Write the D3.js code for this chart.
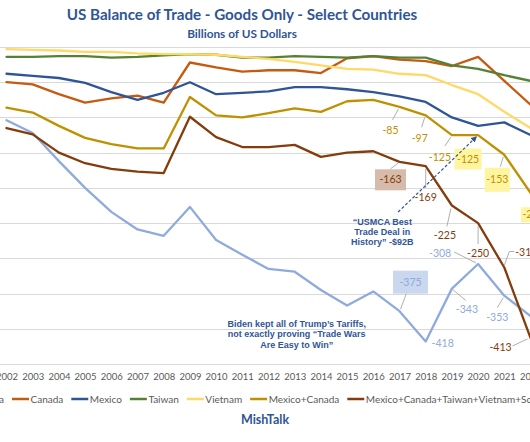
<!DOCTYPE html>
<html><head><meta charset="utf-8">
<script src="https://cdn.jsdelivr.net/npm/d3@7/dist/d3.min.js"></script>
<style>body{margin:0;background:#fff;}svg{display:block;}</style>
</head><body>
<svg id="chart" width="530" height="442"></svg>
<script>
// ---------------- data ----------------
const years = [2002,2003,2004,2005,2006,2007,2008,2009,2010,2011,2012,2013,2014,2015,2016,2017,2018,2019,2020,2021,2022];
const yTicks = [0,-50,-100,-150,-200,-250,-300,-350,-400,-450];
const seriesNames = ["China","Canada","Mexico","Taiwan","Vietnam","Mexico+Canada","Mexico+Canada+Taiwan+Vietnam+South Korea"];
const china   = [-104,-122,-162,-200,-234,-259,-268,-227,-274,-295,-315,-319,-345,-367,-347,-375,-418,-343,-308,-353,-382];
const canada  = [-50,-53,-67,-79,-73,-69,-79,-22,-29,-35,-33,-33,-37,-16,-13,-18,-20,-27,-14,-48,-82];
const mexico  = [-38,-41,-44,-51,-64,-75,-65,-50,-67,-65,-63,-57,-57,-60,-64,-70,-78,-100,-112,-107,-125];
const taiwan  = [-14,-14,-13,-13,-15,-14,-12,-10,-11,-15,-15,-13,-14,-15,-13,-15,-15,-26,-31,-40,-48];
const vietnam = [-3,-4,-5,-7,-7,-9,-10,-10,-11,-14,-17,-21,-26,-31,-32,-38,-40,-54,-67,-92,-115];
const mexCan  = [-86,-93,-112,-129,-138,-144,-144,-71,-97,-100,-94,-87,-92,-77,-75,-85,-97,-125,-125,-153,-207];
const group   = [-115,-124,-150,-165,-173,-177,-179,-99,-128,-142,-142,-139,-156,-150,-148,-163,-169,-225,-250,-313,-413];
const allSeries = [china, canada, mexico, taiwan, vietnam, mexCan, group];

// ---------------- style ----------------
const colors = ["#8FAADC","#C55A11","#2F5597","#548235","#FFD966","#BF9000","#843C0C"];
const blue = "#2F5597";

const svg = d3.select("#chart");
const W = 530;
const x = d3.scaleLinear().domain([2002, 2022]).range([6.5, 530.5]);
const y = d3.scaleLinear().domain([0, -450]).range([47, 364]);

// titles
svg.append("text").attr("x", 242).attr("y", 15).attr("dy", "0.35em")
  .attr("text-anchor", "middle").attr("font-family", "Lato").attr("font-weight", "bold")
  .attr("font-size", 15.2).attr("fill", blue).text("US Balance of Trade - Goods Only - Select Countries");
svg.append("text").attr("x", 242).attr("y", 34).attr("dy", "0.35em")
  .attr("text-anchor", "middle").attr("font-family", "Lato").attr("font-weight", "bold")
  .attr("font-size", 11.8).attr("fill", blue).text("Billions of US Dollars");

// gridlines
svg.append("g").selectAll("line").data(yTicks).join("line")
  .attr("x1", 0).attr("x2", W).attr("y1", d => Math.round(y(d)) + 0.5).attr("y2", d => Math.round(y(d)) + 0.5)
  .attr("stroke", "#D9D9D9").attr("stroke-width", 1);

// x axis labels
const xAxis = d3.axisBottom(x).tickValues(years).tickFormat(d3.format("d")).tickSize(0).tickPadding(9);
const gx = svg.append("g").attr("transform", `translate(0,${y(-450)})`).call(xAxis);
gx.select(".domain").remove();
gx.selectAll("text").attr("font-family", "Lato").attr("font-size", 9.5).attr("fill", "#595959");

// lines
const line = d3.line().x((d, i) => x(years[i])).y(d => y(d));
svg.append("g").selectAll("path").data(allSeries).join("path")
  .attr("d", d => line(d)).attr("fill", "none")
  .attr("stroke", (d, i) => colors[i]).attr("stroke-width", 2.3)
  .attr("stroke-linejoin", "round").attr("stroke-linecap", "round");

// annotations: series index, year, text offset, optional box, leader points (relative to the data point)
const annotations = [
  {s:0, yr:2017, dx:11, dy:-29, box:[35,23,"#C9D7EF"], lead:[[7,-18],[1,-2]]},
  {s:0, yr:2018, dx:17, dy:2, box:null, lead:null},
  {s:0, yr:2019, dx:15, dy:21, box:null, lead:[[14,12],[1,1]]},
  {s:0, yr:2020, dx:-38, dy:-11, box:null, lead:[[-24,-12],[-2,-1]]},
  {s:0, yr:2021, dx:-7, dy:22, box:null, lead:[[-7,12],[-1,2]]},
  {s:6, yr:2017, dx:-9, dy:18, box:[31,21,"#D7BBAA"], lead:[[-9,7],[-1,1]]},
  {s:6, yr:2018, dx:0, dy:31, box:null, lead:[[0,22],[0,3]]},
  {s:6, yr:2019, dx:-7, dy:30, box:null, lead:[[-5,21],[-1,3]]},
  {s:6, yr:2020, dx:0, dy:30, box:null, lead:[[0,21],[0,3]]},
  {s:6, yr:2021, dx:22, dy:-15, box:null, lead:[[10,-16],[5,-16],[0,-2]]},
  {s:6, yr:2022, dx:-30, dy:9, box:null, lead:[[-18,8],[-3,1]]},
  {s:5, yr:2017, dx:-9, dy:23, box:null, lead:[[-7,13],[-1,2]]},
  {s:5, yr:2018, dx:-6, dy:23, box:null, lead:[[-4,12],[-1,2]]},
  {s:5, yr:2019, dx:-12, dy:22, box:null, lead:[[-7,11],[-1,2]]},
  {s:5, yr:2020, dx:-10, dy:24, box:[27,21,"#FFF5A0"], lead:null},
  {s:5, yr:2021, dx:-7, dy:25, box:[25,24,"#FFF5A0"], lead:[[-4,12],[-1,2]]},
  {s:5, yr:2022, dx:3, dy:22, box:[25,15,"#FFF5A0"], lead:null}
];
const ag = svg.append("g");
annotations.forEach(a => {
  const i = years.indexOf(a.yr);
  const v = allSeries[a.s][i];
  const px = x(a.yr), py = y(v);
  if (a.lead) {
    ag.append("path").attr("d", d3.line()(a.lead.map(p => [px + p[0], py + p[1]])))
      .attr("fill", "none").attr("stroke", "#A6A6A6").attr("stroke-width", 0.9);
  }
  if (a.box) {
    ag.append("rect").attr("x", px + a.dx - a.box[0] / 2).attr("y", py + a.dy - a.box[1] / 2)
      .attr("width", a.box[0]).attr("height", a.box[1]).attr("fill", a.box[2]);
  }
  ag.append("text").attr("x", px + a.dx).attr("y", py + a.dy).attr("dy", "0.35em")
    .attr("text-anchor", "middle").attr("font-family", "Lato").attr("font-size", 10.5)
    .attr("fill", colors[a.s]).text(String(v));
});

// dashed arrow to Mexico+Canada 2020
const defs = svg.append("defs");
defs.append("marker").attr("id", "arr").attr("viewBox", "0 0 10 10").attr("refX", 8).attr("refY", 5)
  .attr("markerWidth", 5).attr("markerHeight", 5).attr("orient", "auto")
  .append("path").attr("d", "M0,0L10,5L0,10z").attr("fill", blue);
const ax = x(2020), ay = y(mexCan[years.indexOf(2020)]);
svg.append("line").attr("x1", ax - 80).attr("y1", ay + 77).attr("x2", ax - 2).attr("y2", ay + 2)
  .attr("stroke", blue).attr("stroke-width", 1.2).attr("stroke-dasharray", "3,2")
  .attr("marker-end", "url(#arr)");

// text notes
const noteFont = "'Liberation Sans', Arial, sans-serif";
const usmca = ["\u201CUSMCA Best", "Trade Deal in", "History\u201D -$92B"];
svg.append("text").attr("font-family", noteFont).attr("font-weight", "bold").attr("font-size", 9)
  .attr("fill", blue).attr("text-anchor", "middle")
  .selectAll("tspan").data(usmca).join("tspan")
  .attr("x", x(2016) + 9).attr("y", (d, i) => y(-250) + 2 + i * 10).text(d => d);
const biden = ["Biden kept all of Trump\u2019s Tariffs,", "not exactly proving \u201CTrade Wars", "Are Easy to Win\u201D"];
svg.append("text").attr("font-family", noteFont).attr("font-weight", "bold").attr("font-size", 9)
  .attr("fill", blue).attr("text-anchor", "middle")
  .selectAll("tspan").data(biden).join("tspan")
  .attr("x", x(2013) + 2).attr("y", (d, i) => y(-393) + 3 + i * 10.5).text(d => d);

// legend
const lg = svg.append("g").attr("font-family", "Lato").attr("font-size", 10).attr("fill", "#595959");
const legY = 399;
const widths = seriesNames.map(n => {
  const t = lg.append("text").text(n);
  const w = t.node().getComputedTextLength();
  t.remove();
  return w;
});
const sw = 17, gapT = 1.5, gapI = 8;
let cx = 12 - gapI - widths[0] - gapT - sw;
seriesNames.forEach((n, i) => {
  lg.append("line").attr("x1", cx).attr("x2", cx + sw).attr("y1", legY).attr("y2", legY)
    .attr("stroke", colors[i]).attr("stroke-width", 2.5);
  lg.append("text").attr("x", cx + sw + gapT).attr("y", legY).attr("dy", "0.35em").text(n);
  cx += sw + gapT + widths[i] + gapI;
});

svg.append("text").attr("x", 265).attr("y", 420).attr("dy", "0.35em")
  .attr("text-anchor", "middle").attr("font-family", "Lato").attr("font-weight", "bold")
  .attr("font-size", 12.5).attr("fill", blue).text("MishTalk");
</script>
</body></html>
